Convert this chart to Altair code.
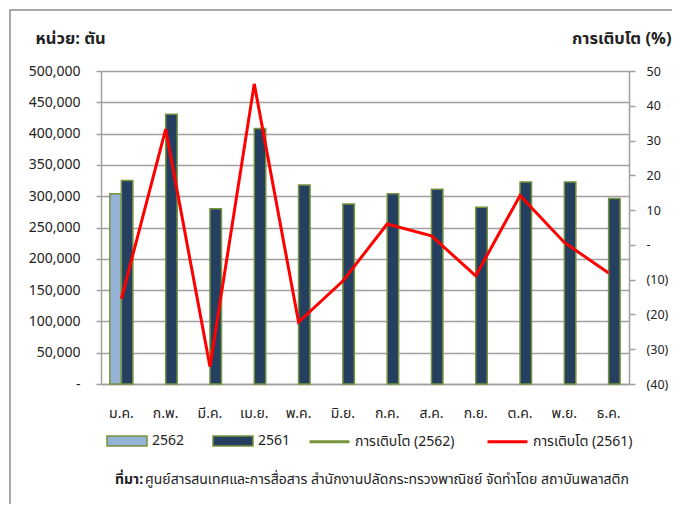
import altair as alt
import pandas as pd

months = ["ม.ค.", "ก.พ.", "มี.ค.", "เม.ย.", "พ.ค.", "มิ.ย.", "ก.ค.", "ส.ค.", "ก.ย.", "ต.ค.", "พ.ย.", "ธ.ค."]
vol_2562 = [304000, None, None, None, None, None, None, None, None, None, None, None]
vol_2561 = [325000, 431000, 280000, 408000, 318000, 287500, 304000, 311000, 282500, 322500, 322500, 296500]
growth_2562 = [-6.5, None, None, None, None, None, None, None, None, None, None, None]
growth_2561 = [-15.5, 33.3, -35.0, 46.3, -22.2, -10.4, 6.0, 2.6, -8.9, 14.2, 0.7, -8.1]

bar_series = ["2562", "2561"]
line_series = ["การเติบโต (2562)", "การเติบโต (2561)"]

FONT = "Tahoma, 'Noto Sans Thai', 'Noto Sans', sans-serif"

bar_rows = []
for m, a, b in zip(months, vol_2562, vol_2561):
    if a is not None:
        bar_rows.append({"month": m, "series": "2562", "value": a})
    if b is not None:
        bar_rows.append({"month": m, "series": "2561", "value": b})
bar_df = pd.DataFrame(bar_rows)

line_rows = []
for m, a, b in zip(months, growth_2562, growth_2561):
    if a is not None:
        line_rows.append({"month": m, "series": line_series[0], "growth": a})
    if b is not None:
        line_rows.append({"month": m, "series": line_series[1], "growth": b})
line_df = pd.DataFrame(line_rows)

x_enc = alt.X(
    "month:N", sort=months, title=None,
    scale=alt.Scale(paddingInner=0.48),
    axis=alt.Axis(labelAngle=0, ticks=False, tickSize=0, labelPadding=22, labelFontSize=14,
                  labelFont=FONT, labelColor="#222", domainColor="#A0A0A0", domainWidth=1.5),
)

bars = alt.Chart(bar_df).mark_bar(stroke="#77933C", strokeWidth=1.5).encode(
    x=x_enc,
    xOffset=alt.XOffset("series:N", sort=bar_series, scale=alt.Scale(domain=bar_series)),
    y=alt.Y(
        "value:Q",
        scale=alt.Scale(domain=[0, 500000]),
        axis=alt.Axis(
            values=list(range(0, 500001, 50000)),
            labelExpr="datum.value == 0 ? '-\u2007\u2008' : format(datum.value, ',')",
            title="หน่วย: ตัน", titleAngle=0, titleX=-66, titleY=-33, titleAlign="left",
            titleBaseline="middle", titleFontSize=16.5, titleFontWeight="bold", titleFont=FONT,
            titleColor="#222",
            labelFontSize=14, labelFont=FONT, labelColor="#222", labelPadding=16,
            tickSize=5, tickColor="#A0A0A0", tickWidth=1.5,
            domainColor="#A0A0A0", domainWidth=1.5,
            grid=True, gridColor="#A0A0A0", gridWidth=1.5,
        ),
    ),
    fill=alt.Fill(
        "series:N",
        scale=alt.Scale(domain=bar_series, range=["#95B3D7", "#243F60"]),
        legend=alt.Legend(
            title=None, orient="none", direction="horizontal", legendX=5, legendY=349,
            symbolType="M-1,-0.25H1V0.25H-1Z", symbolSize=1600,
            symbolStrokeColor="#77933C", symbolStrokeWidth=1.5,
            labelFontSize=14, labelFont=FONT, labelColor="#222", labelOffset=4,
            columnPadding=25,
        ),
    ),
)

lines = alt.Chart(line_df).mark_line(strokeWidth=3).encode(
    x=alt.X("month:N", sort=months),
    y=alt.Y(
        "growth:Q",
        scale=alt.Scale(domain=[-40, 50]),
        axis=alt.Axis(
            orient="right", values=list(range(-40, 51, 10)),
            labelExpr="datum.value == 0 ? '-' : (datum.value < 0 ? '(' + abs(datum.value) + ')' : datum.value)",
            title="การเติบโต (%)", titleAngle=0, titleX=42, titleY=-33, titleAlign="right",
            titleBaseline="middle", titleFontSize=16.5, titleFontWeight="bold", titleFont=FONT,
            titleColor="#222",
            labelFontSize=12.5, labelFont=FONT, labelColor="#222", labelPadding=11,
            tickSize=6, tickColor="#A0A0A0", tickWidth=1.5,
            domainColor="#A0A0A0", domainWidth=1.5, grid=False,
        ),
    ),
    stroke=alt.Stroke(
        "series:N",
        scale=alt.Scale(domain=line_series, range=["#77933C", "#FF0000"]),
        legend=alt.Legend(
            title=None, orient="none", direction="horizontal", legendX=207, legendY=349,
            symbolType="stroke", symbolSize=1600, symbolStrokeWidth=3,
            labelFontSize=14, labelFont=FONT, labelColor="#222", labelOffset=4,
            columnPadding=26,
        ),
    ),
)

note_df = pd.DataFrame({"t": ["ที่มา:"], "u": ["ศูนย์สารสนเทศและการสื่อสาร  สำนักงานปลัดกระทรวงพาณิชย์  จัดทำโดย  สถาบันพลาสติก"]})
note_bold = alt.Chart(note_df).mark_text(
    align="left", baseline="middle", fontSize=14, fontWeight="bold", font=FONT, color="#222"
).encode(text="t:N", x=alt.value(14), y=alt.value(409))
note_rest = alt.Chart(note_df).mark_text(
    align="left", baseline="middle", fontSize=14, font=FONT, color="#222"
).encode(text="u:N", x=alt.value(44), y=alt.value(409))

border = alt.Chart(pd.DataFrame({"a": [0]})).mark_rect(
    filled=False, stroke="#8C8C8C", strokeWidth=1.5
).encode(x=alt.value(-91), x2=alt.value(700), y=alt.value(-61), y2=alt.value(700))

chart = alt.layer(border, bars, lines, note_bold, note_rest).resolve_scale(
    y="independent"
).properties(
    width=528, height=313,
    autosize=alt.AutoSizeParams(type="none"),
    padding={"left": 93, "top": 63, "right": 43, "bottom": 120},
).configure_view(
    fill="#EEF1E8", stroke="#A0A0A0", strokeWidth=1.5
).configure(background="white")

chart.save("out.html", embed_options={"renderer": "svg", "actions": False})
